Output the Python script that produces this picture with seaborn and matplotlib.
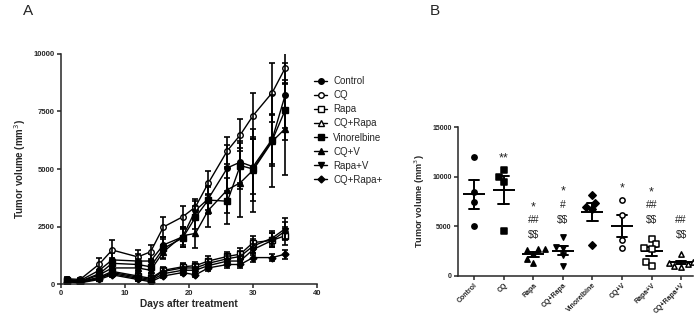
import numpy as np
import pandas as pd
import seaborn as sns
from matplotlib import pyplot as plt

# panel A: mean tumour volume over time
days = [1, 3, 6, 8, 12, 14, 16, 19, 21, 23, 26, 28, 30, 33, 35]
groups = ["Control", "CQ", "Rapa", "CQ+Rapa", "Vinorelbine", "CQ+V", "Rapa+V", "CQ+Rapa+V"]
legend_labels = ["Control", "CQ", "Rapa", "CQ+Rapa", "Vinorelbine", "CQ+V", "Rapa+V", "CQ+Rapa+"]

control_mean = [200, 150, 600, 1050, 1000, 1000, 1700, 2050, 3200, 3700, 5050, 5300, 5100, 6300, 8200]
control_se = [50, 40, 200, 300, 300, 300, 350, 450, 400, 500, 1000, 900, 1200, 1100, 1400]
cq_mean = [230, 200, 870, 1480, 1180, 1400, 2480, 2920, 3350, 4380, 5800, 6480, 7320, 8320, 9380]
cq_se = [60, 50, 250, 450, 280, 300, 420, 480, 350, 520, 600, 700, 1000, 1280, 700]
rapa_mean = [150, 100, 300, 550, 350, 250, 600, 750, 800, 1000, 1200, 1300, 1800, 1900, 2100]
rapa_se = [40, 30, 100, 150, 150, 100, 150, 150, 150, 200, 200, 250, 300, 300, 400]
cqrapa_mean = [130, 80, 250, 500, 300, 200, 550, 700, 700, 900, 1100, 1200, 1650, 2000, 2400]
cqrapa_se = [40, 30, 100, 150, 120, 100, 150, 150, 150, 200, 200, 250, 300, 300, 450]
vino_mean = [180, 120, 450, 900, 850, 750, 1550, 2000, 2900, 3650, 3600, 5150, 5000, 6250, 7550]
vino_se = [50, 40, 150, 250, 250, 250, 400, 400, 500, 600, 1000, 1000, 1400, 1100, 1300]
cqv_mean = [150, 100, 400, 700, 700, 600, 1400, 2100, 2200, 3200, 4100, 4400, 4950, 6200, 6750]
cqv_se = [40, 30, 150, 200, 200, 200, 300, 400, 650, 700, 1000, 1500, 1800, 2000, 2000]
rapav_mean = [100, 60, 250, 450, 250, 150, 450, 600, 600, 800, 1000, 1000, 1500, 1900, 2300]
rapav_se = [30, 20, 80, 120, 100, 60, 120, 120, 120, 150, 200, 200, 250, 300, 400]
cqrapav_mean = [100, 50, 200, 400, 200, 100, 350, 500, 400, 700, 850, 850, 1150, 1150, 1300]
cqrapav_se = [30, 20, 80, 100, 80, 50, 100, 100, 100, 150, 150, 150, 200, 150, 200]

means = [control_mean, cq_mean, rapa_mean, cqrapa_mean, vino_mean, cqv_mean, rapav_mean, cqrapav_mean]
ses = [control_se, cq_se, rapa_se, cqrapa_se, vino_se, cqv_se, rapav_se, cqrapav_se]

# panel B: individual tumour volumes at the end
control_pts = [12000, 8400, 7400, 5000]
cq_pts = [10700, 10000, 9500, 4500]
rapa_pts = [2700, 2650, 2550, 2150, 1650, 1250]
cqrapa_pts = [3870, 2900, 2750, 2050, 1000]
vino_pts = [8100, 7350, 6900, 6700, 3100]
cqv_pts = [7600, 6100, 3600, 2800]
rapav_pts = [3700, 3200, 2750, 2700, 1400, 950]
cqrapav_pts = [2150, 1400, 1300, 1200, 1000, 900]
points = [control_pts, cq_pts, rapa_pts, cqrapa_pts, vino_pts, cqv_pts, rapav_pts, cqrapav_pts]

# significance marks: (group index, y, text)
sig_marks = [(1, 11800, "**"),
             (2, 6900, "*"), (2, 5650, "##"), (2, 4100, r"\$\$"),
             (3, 8500, "*"), (3, 7100, "#"), (3, 5600, r"\$\$"),
             (5, 8850, "*"),
             (6, 8350, "*"), (6, 7100, "##"), (6, 5650, r"\$\$"),
             (7, 5650, "##"), (7, 4100, r"\$\$")]

# marker style per group (marker, filled?)
line_markers = [("o", True), ("o", False), ("s", False), ("^", False),
                ("s", True), ("^", True), ("v", True), ("D", True)]
dot_markers = [("o", True), ("s", True), ("^", True), ("v", True),
               ("D", True), ("o", False), ("s", False), ("^", False)]

sns.set_style("ticks")
plt.rcParams['font.family'] = ['Liberation Sans', 'DejaVu Sans']
plt.rcParams['axes.linewidth'] = 1.1

fig = plt.figure(figsize=(7, 3.25), dpi=100)
axA = fig.add_axes([0.087, 0.126, 0.366, 0.708])
axB = fig.add_axes([0.654, 0.152, 0.336, 0.457])

#panel A lines
for name, lab, m, s, (mk, filled) in zip(groups, legend_labels, means, ses, line_markers):
  sns.lineplot(x=days, y=m, ax=axA, color="black", linewidth=1, marker=mk,
               markersize=4 if mk != "D" else 3.5, mfc="black" if filled else "white",
               mec="black", mew=1, label=lab)
  axA.errorbar(days, m, yerr=s, fmt="none", ecolor="black", elinewidth=1.2,
               capsize=2.5, capthick=1.2)

axA.set_xlim(0, 40)
axA.set_ylim(0, 10000)
axA.set_xticks([0, 10, 20, 30, 40])
axA.set_yticks([0, 2500, 5000, 7500, 10000])
axA.set_xlabel("Days after treatment", fontsize=7.3, fontweight="bold", labelpad=1)
axA.set_ylabel("Tumor volume (mm$^3$)", fontsize=7, fontweight="bold", labelpad=4)
axA.tick_params(labelsize=5.5, length=3, width=1.1, pad=1.5)
for t in axA.get_xticklabels() + axA.get_yticklabels():
  t.set_fontweight("bold")
axA.legend(loc="upper left", bbox_to_anchor=(0.972, 0.92), frameon=False, fontsize=7,
           handlelength=1.4, handletextpad=0.6, labelspacing=0.42, borderaxespad=0)
sns.despine(ax=axA)

#panel B scatter
df = pd.DataFrame({"group": np.repeat(groups, [len(p) for p in points]),
                   "volume": np.concatenate(points)})
for name, (mk, filled) in zip(groups, dot_markers):
  sub = df[df["group"] == name]
  sns.swarmplot(data=sub, x="group", y="volume", order=groups, ax=axB, marker=mk,
                size=3.8, color="black", facecolor="black" if filled else "white",
                edgecolor="black", linewidth=1.1)

sns.pointplot(data=df, x="group", y="volume", order=groups, ax=axB, errorbar="se",
              color="black", linestyle="none", marker="_", markersize=16,
              markeredgewidth=1.4, capsize=0.36, err_kws={"linewidth": 1.4})

for i, y, txt in sig_marks:
  size = 9 if "*" in txt else 7.5
  axB.text(i, y, txt, ha="center", va="center", fontsize=size, color="#222222")

axB.set_xlim(-0.55, 7.4)
axB.set_ylim(0, 15000)
axB.set_yticks([0, 5000, 10000, 15000])
axB.set_xlabel("")
axB.set_ylabel("Tumor volume (mm$^3$)", fontsize=6.6, fontweight="bold", labelpad=4)
axB.tick_params(labelsize=5, length=3, width=1.1, pad=1.5)
plt.setp(axB.get_xticklabels(), rotation=45, ha="right", rotation_mode="anchor", fontweight="bold")
plt.setp(axB.get_yticklabels(), fontweight="bold")
sns.despine(ax=axB)

fig.text(0.033, 0.955, "A", fontsize=11)
fig.text(0.614, 0.955, "B", fontsize=11)

fig.savefig("out.png", dpi=100)
